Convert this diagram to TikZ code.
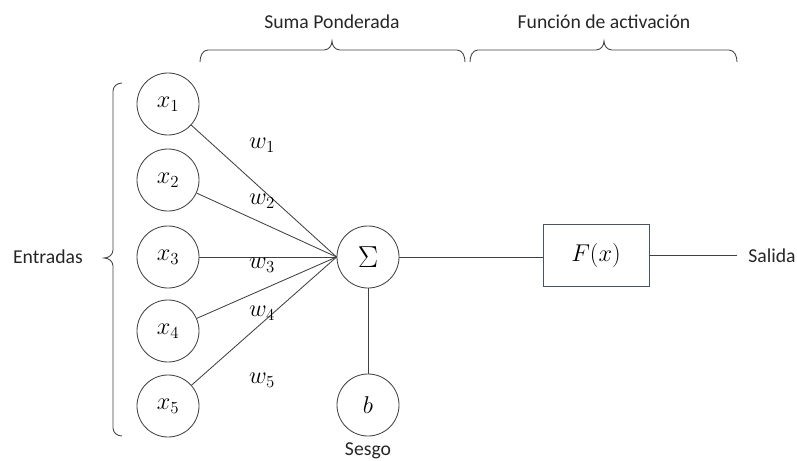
\documentclass[tikz,border=0pt]{standalone}
\usepackage{fontspec}
\setmainfont{Carlito}
\usetikzlibrary{positioning}
\definecolor{linegray}{RGB}{64, 64, 64}
\definecolor{boxslate}{RGB}{68, 84, 106}

\begin{document}
\begin{tikzpicture}[x=0.025cm, y=-0.025cm,
        neuron/.style={draw=linegray, circle, line width=0.6pt,
            minimum size=1.55cm, inner sep=0pt, font=\fontsize{17}{20}\selectfont},
        link/.style={draw=linegray, line width=0.6pt},
        wlabel/.style={font=\fontsize{17}{20}\selectfont},
        tag/.style={font=\fontsize{14}{17}\selectfont, text=black!85},
        curly/.style={draw=linegray, line width=0.6pt}
    ]
    \useasboundingbox (0, 0) rectangle (797, 461);

    % inputs
    \node[neuron] (x1) at (168, 104) {$x_1$};
    \node[neuron] (x2) at (168, 180) {$x_2$};
    \node[neuron] (x3) at (168, 257) {$x_3$};
    \node[neuron] (x4) at (168, 331) {$x_4$};
    \node[neuron] (x5) at (168, 406) {$x_5$};

    % summation, bias and activation
    \node[neuron] (sum) at (368, 257) {\scalebox{1.25}{$\Sigma$}};
    \node[neuron] (bias) at (368, 405) {$b$};
    \node[draw=boxslate, line width=0.6pt, minimum width=2.65cm,
        minimum height=1.55cm, font=\fontsize{17}{20}\selectfont]
        (act) at (596, 255) {$F(x)$};
    \coordinate (out) at (737, 255);

    \draw[link] (x1) -- (sum.west);
    \draw[link] (x2) -- (sum.west);
    \draw[link] (x3) -- (sum.west);
    \draw[link] (x4) -- (sum.west);
    \draw[link] (x5) -- (sum.west);
    \draw[link] (sum) -- (bias);
    \draw[link] (sum.east) -- (sum.east -| act.west);
    \draw[link] (act.east) -- (out);

    % weights
    \node[wlabel] (w1) at (262, 145) {$w_1$};
    \node[wlabel] (w2) at (262, 201) {$w_2$};
    \node[wlabel] (w3) at (262, 265) {$w_3$};
    \node[wlabel] (w4) at (262, 313) {$w_4$};
    \node[wlabel] (w5) at (262, 380) {$w_5$};

    % braces
    \draw[curly] (122, 436) to[out=180, in=-90] (113, 428) -- (113, 266)
        to[out=90, in=0] (104, 258) to[out=0, in=-90] (113, 250)
        -- (113, 91) to[out=90, in=180] (122, 83);
    \draw[curly] (200, 62) to[out=90, in=180] (208, 50) -- (324, 50)
        to[out=0, in=-90] (332, 41) to[out=-90, in=180] (340, 50)
        -- (457, 50) to[out=0, in=90] (465, 62);
    \draw[curly] (470, 62) to[out=90, in=180] (478, 50) -- (596, 50)
        to[out=0, in=-90] (604, 41) to[out=-90, in=180] (612, 50)
        -- (729, 50) to[out=0, in=90] (737, 62);

    \node[tag] (entradas) at (48, 257) {Entradas};
    \node[tag] (suma) at (332, 22) {Suma Ponderada};
    \node[tag] (funcion) at (604, 22) {Función de activación};
    \node[tag, anchor=west, inner sep=0pt] (salida) at (748, 256) {Salida};
    \node[tag] (sesgo) at (368, 451) {Sesgo};
\end{tikzpicture}
\end{document}
